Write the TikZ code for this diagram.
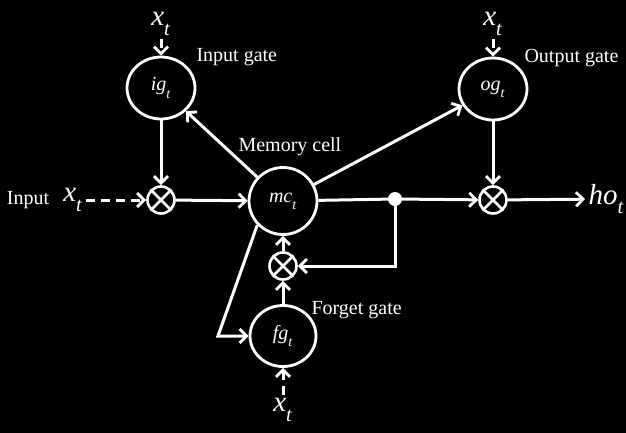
\documentclass[tikz,border=0pt]{standalone}
\usepackage{fontspec}
\setmainfont{Liberation Serif}
\usetikzlibrary{arrows.meta,positioning,shapes.geometric}
\newcommand{\vsub}[2]{\textit{#1}\raisebox{-0.45ex}{\textsubscript{\textit{#2}}}}

\begin{document}
\begin{tikzpicture}[
  x=1pt,y=-1pt,
  every node/.style={text=white,font=\fontsize{20}{22}\selectfont},
  line/.style={white,line width=3pt},
  arr/.style={line,-{Straight Barb[length=7pt,width=14pt,line width=2.8pt]}},
  dasharr/.style={arr,dash pattern=on 9pt off 6pt},
  gate/.style={draw=white,line width=2.8pt,ellipse,minimum width=68pt,minimum height=62pt,inner sep=0pt,
               font=\fontsize{20}{22}\selectfont},
  mult/.style={draw=white,line width=2.6pt,circle,minimum size=27pt,inner sep=0pt},
  bigvar/.style={font=\fontsize{29}{31}\selectfont},
]
  % Background
  \fill[black] (0,0) rectangle (626,433);
  \useasboundingbox (0,0) rectangle (626,433);

  % Gates and memory cell
  \node[gate] (ig) at (161,88) {\vsub{ig}{t}};
  \node[gate] (og) at (493,89) {\vsub{og}{t}};
  \node[gate,minimum width=68pt,minimum height=67pt] (mc) at (283,201) {\vsub{mc}{t}};
  \node[gate,minimum width=66pt,minimum height=61pt] (fg) at (283,336) {\vsub{fg}{t}};

  \node[anchor=west] (iglab) at (193,57) {Input gate};
  \node[anchor=west] (oglab) at (521,58) {Output gate};
  \node[anchor=west] (mclab) at (235,147) {Memory cell};
  \node[anchor=west] (fglab) at (308,310) {Forget gate};

  % Multipliers
  \node[mult] (gi) at (161,200) {};
  \node[mult] (go) at (493,200) {};
  \node[mult] (gf) at (283,266) {};
  \foreach \m in {gi,go,gf}{
    \draw[white,line width=2.6pt] (\m.45) -- (\m.225) (\m.135) -- (\m.315);
  }
  \fill[white] (395,199) circle (7pt);
  \coordinate (dot) at (395,199);

  % Inputs and output
  \node (inlab) at (28,200) {Input};
  \node[bigvar] (xin) at (73,200) {\vsub{x}{t}};
  \node[bigvar,anchor=base] (xig) at (161,26) {\vsub{x}{t}};
  \node[bigvar,anchor=base] (xog) at (493,26) {\vsub{x}{t}};
  \node[bigvar] (xfg) at (283,410) {\vsub{x}{t}};
  \node[bigvar,anchor=west] (ho) at (585,199) {\vsub{ho}{t}};

  % Dashed inputs
  \draw[dasharr] (xin) -- (gi);
  \draw[dasharr] (xig) -- (ig);
  \draw[dasharr] (xog) -- (og);
  \draw[dasharr] (xfg) -- (fg);

  % Connections
  \draw[arr] (ig) -- (gi);
  \draw[arr] (og) -- (go);
  \draw[arr] (gi) -- (mc);
  \draw[arr] (mc) -- (ig);
  \draw[arr] (mc) -- (og);
  \draw[line] (mc) -- (dot);
  \draw[arr] (dot) -- (go);
  \draw[arr] (go) -- (ho);
  \draw[arr] (dot) |- (gf);
  \draw[arr] (gf) -- (mc);
  \draw[arr] (fg) -- (gf);
  \coordinate (bend) at (218,336);
  \draw[arr] (mc.223) -- (bend) -- (fg);
\end{tikzpicture}
\end{document}
